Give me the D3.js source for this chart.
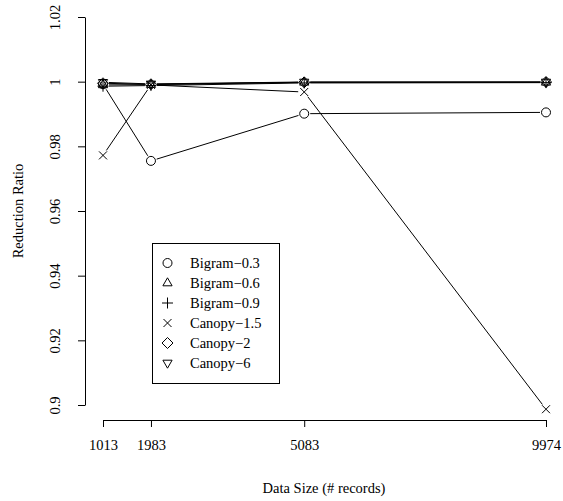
<!DOCTYPE html>
<html>
<head>
<meta charset="utf-8">
<script src="https://cdn.jsdelivr.net/npm/d3@7"></script>
<style>
  body { margin: 0; background: #fff; }
</style>
</head>
<body>
<div id="chart"></div>
<script>
// data sizes (x) and reduction ratio per method
var sizes = [1013, 1983, 5083, 9974];
var bigram03 = [0.9992, 0.9755, 0.9901, 0.9905];
var bigram06 = [0.9990, 0.9991, 0.9998, 0.9998];
var bigram09 = [0.9986, 0.9988, 0.9996, 0.9997];
var canopy15 = [0.9772, 0.9990, 0.9968, 0.8987];
var canopy2 = [0.9995, 0.9992, 0.9998, 0.9999];
var canopy6 = [0.9998, 0.9993, 0.9999, 0.9999];
var yTicks = [0.9, 0.92, 0.94, 0.96, 0.98, 1, 1.02];
var seriesNames = ["Bigram\u22120.3", "Bigram\u22120.6", "Bigram\u22120.9", "Canopy\u22121.5", "Canopy\u22122", "Canopy\u22126"];

var series = [bigram03, bigram06, bigram09, canopy15, canopy2, canopy6];
var shapes = ["circle", "triangle", "plus", "cross", "diamond", "triangleDown"];

var width = 563, height = 501;
// no serif faces in the sandbox; Liberation Sans is the narrowest match
var font = "'Liberation Serif', 'Liberation Sans', Arial, sans-serif";
var fontSize = "14.5px";

var svg = d3.select("#chart")
  .append("svg")
  .attr("width", width)
  .attr("height", height)
  .attr("font-family", font);

var x = d3.scaleLinear().domain([1013, 9974]).range([103, 546]);
var y = d3.scaleLinear().domain([0.9, 1.02]).range([405, 17]);

// R style symbol paths
function symbolPath(type) {
  var r = 4.5;
  switch (type) {
    case "circle":
      return "M" + r + ",0A" + r + "," + r + " 0 1,1 " + (-r) + ",0A" + r + "," + r + " 0 1,1 " + r + ",0Z";
    case "triangle":
      return "M0,-5.2L4.6,2.8L-4.6,2.8Z";
    case "triangleDown":
      return "M0,5.2L4.6,-2.8L-4.6,-2.8Z";
    case "plus":
      return "M-5.5,0L5.5,0M0,-5.5L0,5.5";
    case "cross":
      return "M-4,-4L4,4M-4,4L4,-4";
    case "diamond":
      return "M0,-5.5L5.5,0L0,5.5L-5.5,0Z";
  }
}

// lines with gaps around points (type = "b")
var gap = 6;
series.forEach(function(vals, si) {
  var pts = vals.map(function(v, i) { return [x(sizes[i]), y(v)]; });
  var segs = d3.pairs(pts).map(function(p) {
    var dx = p[1][0] - p[0][0], dy = p[1][1] - p[0][1];
    var len = Math.sqrt(dx * dx + dy * dy);
    if (len <= 2 * gap) return null;
    var ux = dx / len, uy = dy / len;
    return [p[0][0] + ux * gap, p[0][1] + uy * gap, p[1][0] - ux * gap, p[1][1] - uy * gap];
  }).filter(function(s) { return s; });

  svg.append("g").selectAll("line")
    .data(segs)
    .enter()
    .append("line")
    .attr("x1", d => d[0])
    .attr("y1", d => d[1])
    .attr("x2", d => d[2])
    .attr("y2", d => d[3])
    .attr("stroke", "#000")
    .attr("stroke-width", 1);

  svg.append("g").selectAll("path")
    .data(pts)
    .enter()
    .append("path")
    .attr("d", symbolPath(shapes[si]))
    .attr("transform", d => "translate(" + d[0] + "," + d[1] + ")")
    .attr("fill", "none")
    .attr("stroke", "#000")
    .attr("stroke-width", 1);
});

// axes
var xAxis = svg.append("g")
  .attr("transform", "translate(0,420)")
  .call(d3.axisBottom(x).tickValues(sizes).tickFormat(d3.format("d")).tickSize(7).tickSizeOuter(0).tickPadding(13));

var yAxis = svg.append("g")
  .attr("transform", "translate(85,0)")
  .call(d3.axisLeft(y).tickValues(yTicks).tickFormat(d => d3.format("")(+d.toFixed(2))).tickSize(7).tickSizeOuter(0));

[xAxis, yAxis].forEach(function(a) {
  a.attr("font-family", font).attr("font-size", fontSize);
  a.selectAll("path, line").attr("stroke", "#000");
  a.selectAll("text").style("font-family", font).style("font-size", fontSize).attr("fill", "#000");
});

yAxis.selectAll(".tick text")
  .attr("x", 0)
  .attr("dy", 0)
  .attr("text-anchor", "middle")
  .attr("transform", "translate(-25,0) rotate(-90)");

// axis titles
svg.append("text")
  .attr("x", 324)
  .attr("y", 493)
  .attr("text-anchor", "middle")
  .style("font-family", font)
  .style("font-size", fontSize)
  .text("Data Size (# records)");

svg.append("text")
  .attr("transform", "translate(23,211) rotate(-90)")
  .attr("text-anchor", "middle")
  .style("font-family", font)
  .style("font-size", fontSize)
  .text("Reduction Ratio");

// legend
var legend = svg.append("g");
legend.append("rect")
  .attr("x", 152.5)
  .attr("y", 243.5)
  .attr("width", 127)
  .attr("height", 140)
  .attr("fill", "#fff")
  .attr("stroke", "#000");

var rows = legend.selectAll(".row")
  .data(seriesNames)
  .enter()
  .append("g")
  .attr("class", "row")
  .attr("transform", (d, i) => "translate(0," + (263 + i * 20) + ")");

rows.append("path")
  .attr("d", (d, i) => symbolPath(shapes[i]))
  .attr("transform", "translate(167.5,0)")
  .attr("fill", "none")
  .attr("stroke", "#000");

rows.append("text")
  .attr("x", 190)
  .attr("dy", "0.35em")
  .style("font-family", font)
  .style("font-size", fontSize)
  .text(d => d);
</script>
</body>
</html>
